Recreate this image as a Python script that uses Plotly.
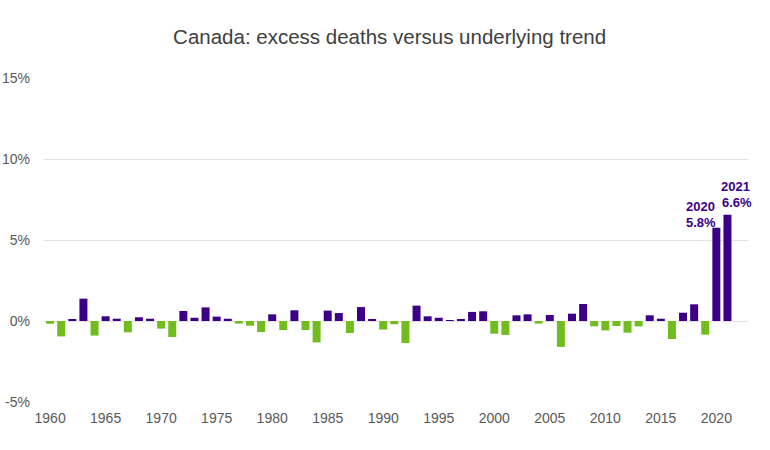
import plotly.graph_objects as go

years = list(range(1960, 2022))
excess = [-0.17, -0.95, 0.10, 1.38, -0.90, 0.29, 0.14, -0.70, 0.23, 0.14,
          -0.47, -0.99, 0.62, 0.20, 0.84, 0.27, 0.14, -0.16, -0.29, -0.68,
          0.41, -0.56, 0.66, -0.56, -1.32, 0.64, 0.49, -0.74, 0.86, 0.10,
          -0.53, -0.20, -1.36, 0.95, 0.29, 0.20, 0.02, 0.10, 0.56, 0.60,
          -0.78, -0.86, 0.35, 0.41, -0.16, 0.37, -1.60, 0.45, 1.05, -0.33,
          -0.58, -0.31, -0.72, -0.33, 0.35, 0.14, -1.11, 0.51, 1.03, -0.84,
          5.76, 6.56]
x_ticks = list(range(1960, 2021, 5))
y_ticks = [-5, 0, 5, 10, 15]
y_tick_labels = ["-5%", "0%", "5%", "10%", "15%"]
label_years = [2020, 2021]
label_values = ["5.8%", "6.6%"]

PURPLE = "#3B0087"
GREEN = "#71BC1F"
colors = [PURPLE if v >= 0 else GREEN for v in excess]

fig = go.Figure()
fig.add_trace(go.Bar(x=years, y=excess, marker=dict(color=colors, line=dict(width=0)),
                     width=0.72, hoverinfo="x+y"))

x_shifts = [-15, 9.5]
value_lifts = [5.5, 12.5]
LINE_GAP = 15.5
ann_font = dict(family="Liberation Sans, Arial", size=13, color=PURPLE)
for yr, val_txt, xs, lift in zip(label_years, label_values, x_shifts, value_lifts):
    v = excess[years.index(yr)]
    fig.add_annotation(x=yr, y=v, text=f"<b>{val_txt}</b>", showarrow=False,
                       xanchor="center", yanchor="middle", xshift=xs, yshift=lift,
                       font=ann_font)
    fig.add_annotation(x=yr, y=v, text=f"<b>{yr}</b>", showarrow=False,
                       xanchor="center", yanchor="middle", xshift=xs - 1,
                       yshift=lift + LINE_GAP, font=ann_font)

fig.update_layout(
    width=770, height=450,
    margin=dict(l=44, r=22, t=78, b=48),
    paper_bgcolor="white", plot_bgcolor="white",
    showlegend=False,
    title=dict(text="Canada: excess deaths versus underlying trend",
               x=0.506, xanchor="center", y=0.918, yanchor="middle",
               font=dict(family="Liberation Sans, Arial", size=20.5, color="#404040")),
    font=dict(family="Liberation Sans, Arial", size=14, color="#595959"),
)
fig.update_xaxes(range=[1959.45, 2022.85], tickvals=x_ticks, ticktext=[str(t) for t in x_ticks],
                 showgrid=False, zeroline=False, showline=False, ticks="",
                 ticklabelstandoff=6, automargin=False,
                 tickfont=dict(size=14, color="#595959"))
fig.update_yaxes(range=[-5, 15], tickvals=y_ticks, ticktext=y_tick_labels,
                 showgrid=True, gridcolor="#E3E3E3", gridwidth=1,
                 zeroline=True, zerolinecolor="#E3E3E3", zerolinewidth=1,
                 showline=False, ticks="", ticklabelstandoff=13, automargin=False,
                 tickfont=dict(size=14, color="#595959"))

fig.write_html("out.html", config={"displayModeBar": False},
               post_script="document.body.style.margin='0';")
